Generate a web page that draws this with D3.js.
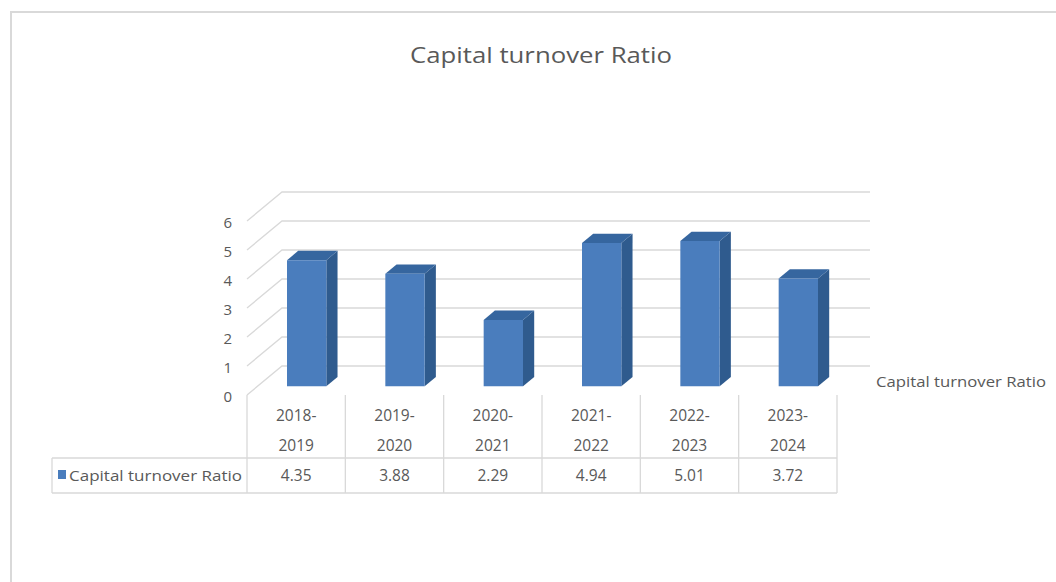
<!DOCTYPE html>
<html>
<head>
<meta charset="utf-8">
<script src="https://cdn.jsdelivr.net/npm/d3@7"></script>
<style>
  html, body { margin: 0; padding: 0; background: #fff; }
  svg { display: block; }
  text { font-family: "Open Sans", "Noto Sans", sans-serif; fill: #595959; }
</style>
</head>
<body>
<svg id="chart" width="1056" height="582"></svg>
<script>
// Chart data
const chartTitle = "Capital turnover Ratio";
const seriesName = "Capital turnover Ratio";
const categories = ["2018-2019", "2019-2020", "2020-2021", "2021-2022", "2022-2023", "2023-2024"];
const values = [4.35, 3.88, 2.29, 4.94, 5.01, 3.72];
const valueLabels = ["4.35", "3.88", "2.29", "4.94", "5.01", "3.72"];
const yTicks = [0, 1, 2, 3, 4, 5, 6];

const svg = d3.select("#chart");

// Outer chart frame
svg.append("rect")
  .attr("x", 11).attr("y", 12).attr("width", 1100).attr("height", 620)
  .attr("fill", "none").attr("stroke", "#d9d9d9").attr("stroke-width", 2);

// Title
svg.append("text")
  .attr("x", 541).attr("y", 63)
  .attr("text-anchor", "middle")
  .attr("font-size", 21)
  .attr("textLength", 262).attr("lengthAdjust", "spacingAndGlyphs")
  .text(chartTitle);

// Front plane scales, plus an oblique depth offset for the 3D look
const x = d3.scaleBand().domain(categories).range([247, 837]);
const y = d3.scaleLinear().domain([0, 6]).range([395, 221]);
const depthDX = 35, depthDY = -29;
const proj = (px, v, z) => [px + z * depthDX, y(v) + z * depthDY];
const pts = arr => arr.map(p => p.join(",")).join(" ");

// Gridlines: side wall diagonal + back wall horizontal
const grid = svg.append("g").attr("stroke", "#d9d9d9").attr("stroke-width", 1.3).attr("fill", "none");
yTicks.forEach(t => {
  const a = proj(x.range()[0], t, 0);
  const b = proj(x.range()[0], t, 1);
  const c = proj(x.range()[1] - 2, t, 1);
  grid.append("polyline").attr("points", pts([a, b, c]));
});

// Value axis labels
svg.append("g").selectAll("text").data(yTicks).join("text")
  .attr("x", 232).attr("y", d => y(d) + 7)
  .attr("text-anchor", "end")
  .attr("font-size", 15)
  .text(d => d);

// 3D columns
const zF = 0.3, zB = 0.62;
const bw = x.bandwidth();
const bars = svg.append("g");
categories.forEach((c, i) => {
  const v = values[i];
  const x0 = x(c) + bw * 0.3, x1 = x(c) + bw * 0.7;
  const g = bars.append("g");
  g.append("polygon").attr("fill", "#2f5b8e")
    .attr("points", pts([proj(x1, 0, zF), proj(x1, 0, zB), proj(x1, v, zB), proj(x1, v, zF)]));
  g.append("polygon").attr("fill", "#36669f")
    .attr("points", pts([proj(x0, v, zF), proj(x1, v, zF), proj(x1, v, zB), proj(x0, v, zB)]));
  g.append("polygon").attr("fill", "#4a7dbd")
    .attr("points", pts([proj(x0, 0, zF), proj(x1, 0, zF), proj(x1, v, zF), proj(x0, v, zF)]));
});

// Data table under the plot
const headTop = 395, headBot = 458, rowBot = 493, legendLeft = 52;
const tbl = svg.append("g");
const lines = tbl.append("g").attr("stroke", "#d9d9d9").attr("stroke-width", 1.3);
const cuts = categories.map(c => x(c)).concat([x.range()[1]]);
cuts.forEach(cx => {
  lines.append("line").attr("x1", cx).attr("x2", cx).attr("y1", headTop).attr("y2", rowBot);
});
lines.append("line").attr("x1", legendLeft).attr("x2", x.range()[1]).attr("y1", headBot).attr("y2", headBot);
lines.append("line").attr("x1", legendLeft).attr("x2", x.range()[1]).attr("y1", rowBot).attr("y2", rowBot);
lines.append("line").attr("x1", legendLeft).attr("x2", legendLeft).attr("y1", headBot).attr("y2", rowBot);

categories.forEach((c, i) => {
  const cx = x(c) + bw / 2;
  const parts = c.split("-");
  tbl.append("text").attr("x", cx).attr("y", 421).attr("text-anchor", "middle").attr("font-size", 15.5).text(parts[0] + "-");
  tbl.append("text").attr("x", cx).attr("y", 451).attr("text-anchor", "middle").attr("font-size", 15.5).text(parts[1]);
  tbl.append("text").attr("x", cx).attr("y", 481).attr("text-anchor", "middle").attr("font-size", 15.5).text(valueLabels[i]);
});

// Legend key inside the table
tbl.append("rect").attr("x", 58).attr("y", 470).attr("width", 8).attr("height", 9).attr("fill", "#4a7dbd");
tbl.append("text").attr("x", 69).attr("y", 481).attr("font-size", 15)
  .attr("textLength", 173).attr("lengthAdjust", "spacingAndGlyphs")
  .text(seriesName);

// Series axis label on the right
svg.append("text").attr("x", 876).attr("y", 387).attr("font-size", 15)
  .attr("textLength", 170).attr("lengthAdjust", "spacingAndGlyphs")
  .text(seriesName);
</script>
</body>
</html>
